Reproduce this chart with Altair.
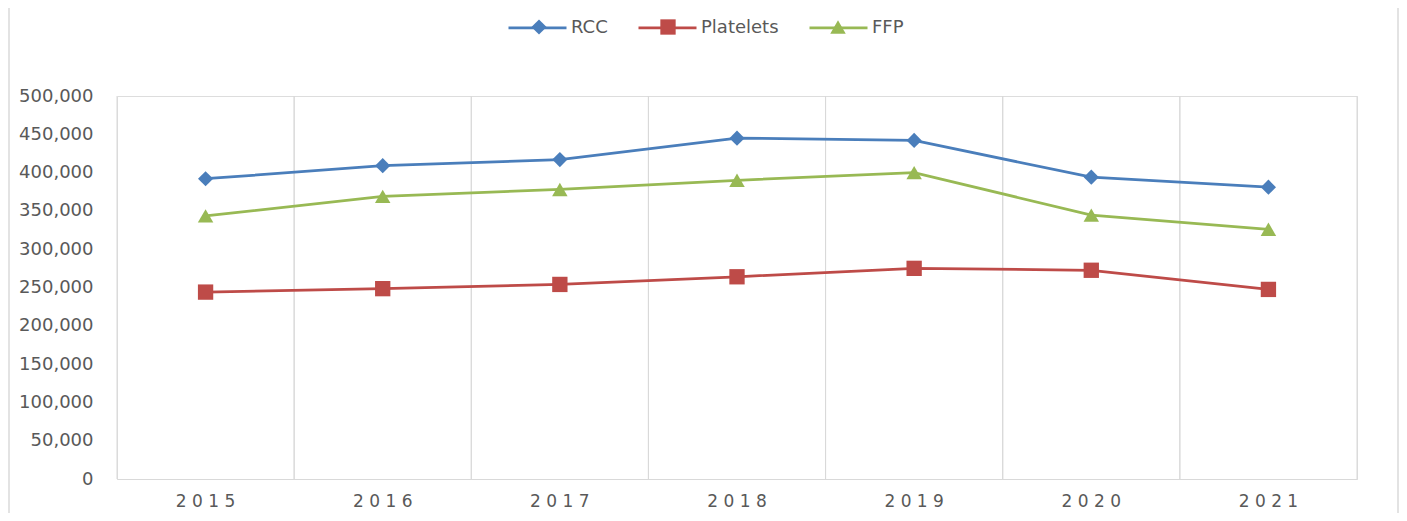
import altair as alt
import pandas as pd

years = ["2015", "2016", "2017", "2018", "2019", "2020", "2021"]
series_names = ["RCC", "Platelets", "FFP"]
rcc = [392000, 409000, 417000, 445000, 442000, 394000, 381000]
platelets = [244000, 248500, 254000, 264000, 275000, 272500, 247500]
ffp = [343500, 369000, 378000, 390000, 400000, 344500, 326000]
colors = ["#4A7EBB", "#BE4B48", "#98B954"]
shapes = ["diamond", "square", "triangle-up"]
sizes = [230, 240, 300]
y_ticks = [0, 50000, 100000, 150000, 200000, 250000, 300000, 350000, 400000, 450000, 500000]

rows = []
for name, vals in zip(series_names, [rcc, platelets, ffp]):
    for yr, v in zip(years, vals):
        rows.append({"year": yr, "series": name, "series2": name, "value": v})
df = pd.DataFrame(rows)
grid_df = pd.DataFrame({"year": years})

FONT = "DejaVu Sans"
TXT = "#595959"
GRID = "#d9d9d9"

x_scale = alt.Scale(type="band", domain=years, paddingInner=0, paddingOuter=0)
x_axis = alt.Axis(title=None, ticks=False, domain=True, domainColor=GRID, domainWidth=1,
                  grid=False, labelFont=FONT, labelFontSize=17, labelColor=TXT,
                  labelPadding=14, labelAngle=0,
                  labelExpr="join(split(datum.label, ''), ' ')")
y_scale = alt.Scale(domain=[0, 500000], nice=False, zero=True)
y_axis = alt.Axis(title=None, values=y_ticks, format=",d", ticks=False, domain=False,
                  grid=False, labelFont=FONT, labelFontSize=18, labelColor=TXT,
                  labelPadding=24)

legend_x = 390
legend_y_b = -78
legend_y_a = legend_y_b - 21
shift = 23
col_pad = 25

legend_a = alt.Legend(title=None, orient="none", legendX=legend_x, legendY=legend_y_a,
                      direction="horizontal", symbolType="stroke", symbolSize=3364,
                      symbolStrokeWidth=2.75, labelFont=FONT, labelFontSize=18,
                      labelColor=TXT, labelOffset=3, columnPadding=col_pad, padding=0)
legend_b = alt.Legend(title=None, orient="none", legendX=legend_x + shift, legendY=legend_y_b,
                      direction="horizontal", symbolSize=120, symbolStrokeWidth=0,
                      labelFont=FONT, labelFontSize=18, labelOpacity=0,
                      labelOffset=49, columnPadding=col_pad, padding=0)

grid_left = alt.Chart(grid_df).mark_rule(color=GRID, strokeWidth=1).encode(
    x=alt.X("year:O", scale=x_scale, axis=x_axis, bandPosition=0)
)
grid_right = alt.Chart(grid_df).mark_rule(color=GRID, strokeWidth=1).encode(
    x=alt.X("year:O", scale=x_scale, axis=x_axis, bandPosition=1)
)

lines = alt.Chart(df).mark_line(strokeWidth=2.75).encode(
    x=alt.X("year:O", scale=x_scale, axis=x_axis),
    y=alt.Y("value:Q", scale=y_scale, axis=y_axis),
    stroke=alt.Stroke("series2:N", scale=alt.Scale(range=colors),
                      legend=legend_a, sort=series_names),
)

points = alt.Chart(df).mark_point(filled=True, opacity=1).encode(
    x=alt.X("year:O", scale=x_scale, axis=x_axis),
    y=alt.Y("value:Q", scale=y_scale, axis=y_axis),
    color=alt.Color("series:N", scale=alt.Scale(domain=series_names, range=colors),
                    legend=legend_b),
    shape=alt.Shape("series:N", scale=alt.Scale(domain=series_names, range=shapes),
                    legend=legend_b),
    size=alt.Size("series:N", scale=alt.Scale(domain=series_names, range=sizes), legend=None),
)

border = alt.Chart(grid_df).mark_rule(color="#e3e3e3", strokeWidth=1.5).encode(
    x=alt.value(-108), y=alt.value(-88), y2=alt.value(417)
)
border_r = alt.Chart(grid_df).mark_rule(color="#e3e3e3", strokeWidth=1.5).encode(
    x=alt.value(1281), y=alt.value(-88), y2=alt.value(417)
)

chart = alt.layer(grid_left, grid_right, lines, points, border, border_r).properties(
    width=1240, height=383,
    autosize=alt.AutoSizeParams(type="none"),
    padding={"left": 109, "top": 88, "right": 42, "bottom": 34},
).configure_view(strokeWidth=0).configure(background="white")

chart.save("out.html", embed_options={"renderer": "svg", "actions": False})
